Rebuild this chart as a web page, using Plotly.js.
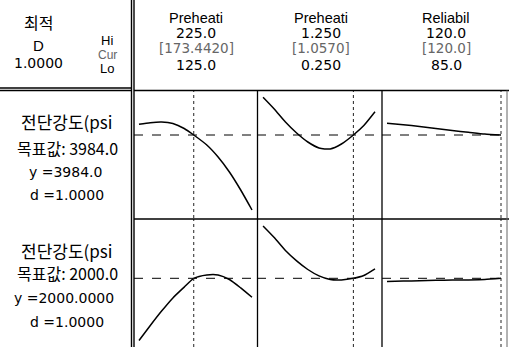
<!DOCTYPE html>
<html><head><meta charset="utf-8">
<script src="https://cdn.plot.ly/plotly-3.0.1.min.js"></script>
<style>html,body{margin:0;padding:0;background:#fff;}#chart{width:509px;height:347px;}</style>
</head><body><div id="chart"></div>
<script>
// ---- data ----
const factorNames = ["Preheati", "Preheati", "Reliabil"];
const hiLabels = ["225.0", "1.250", "120.0"];
const curLabels = ["[173.4420]", "[1.0570]", "[120.0]"];
const loLabels = ["125.0", "0.250", "85.0"];
const loVals = [125, 0.25, 85];
const hiVals = [225, 1.25, 120];
const curVals = [173.442, 1.057, 120];

const respNames = ["전단강도(psi", "전단강도(psi"];
const targetLabels = ["목표값: 3984.0", "목표값: 2000.0"];
const yLabels = ["y =3984.0", "y =2000.0000"];
const dLabels = ["d =1.0000", "d =1.0000"];
const targets = [3984.0, 2000.0];
const optimalD = "1.0000";

const x1 = [125, 135, 145, 155, 165, 173.442, 185, 195, 205, 215, 225];
const x2 = [0.25, 0.35, 0.45, 0.55, 0.65, 0.75, 0.85, 0.95, 1.057, 1.15, 1.25];
const x3 = [85, 90, 95, 100, 105, 110, 115, 120];

const r1p1 = [4070, 4083, 4088, 4076, 4036, 3984, 3904, 3808, 3688, 3544, 3384];
const r1p2 = [4286, 4192, 4088, 4000, 3928, 3880, 3872, 3912, 3984, 4060, 4170];
const r1p3 = [4078, 4066, 4052, 4036, 4020, 4006, 3992, 3984];
const r2p1 = [1689, 1764, 1836, 1902, 1956, 2000, 2017, 2017, 1994, 1952, 1905];
const r2p2 = [2262, 2204, 2139, 2087, 2044, 2012, 1994, 1992, 2000, 2014, 2047];
const r2p3 = [1984, 1986, 1988, 1990, 1991, 1992, 1994, 2000];

// ---- layout helpers ----
const W = 509, H = 347;
const px = v => v / W;
const py = v => 1 - v / H;
const xs = [x1, x2, x3];
const ys = [[r1p1, r1p2, r1p3], [r2p1, r2p2, r2p3]];
const panelX = [[134, 257], [257, 382], [382, 507]];
const rowY = [[91, 218], [219, 347]];
const xRanges = [[120.58, 229.42], [0.196, 1.3125], [83.46, 121.84]];
const yRanges = [[3320, 4336], [1656.5, 2296.5]];

const traces = [];
const layout = {
  width: W, height: H, margin: {l: 0, r: 0, t: 0, b: 0},
  paper_bgcolor: "#fff", plot_bgcolor: "rgba(0,0,0,0)",
  showlegend: false,
  font: {family: "Liberation Sans, Arial, sans-serif", size: 14, color: "#000"},
  shapes: [], annotations: []
};

for (let r = 0; r < 2; r++) {
  for (let p = 0; p < 3; p++) {
    const n = r * 3 + p + 1;
    const xa = "x" + (n === 1 ? "" : n), ya = "y" + (n === 1 ? "" : n);
    traces.push({
      x: xs[p], y: ys[r][p], xaxis: xa, yaxis: ya, type: "scatter", mode: "lines",
      line: {color: "#000", width: 1.5, shape: "spline", smoothing: 0.6}, hoverinfo: "skip"
    });
    layout["xaxis" + (n === 1 ? "" : n)] = {
      domain: [px(panelX[p][0]), px(panelX[p][1])], range: xRanges[p], anchor: ya,
      visible: false, fixedrange: true
    };
    layout["yaxis" + (n === 1 ? "" : n)] = {
      domain: [py(rowY[r][1]), py(rowY[r][0])], range: yRanges[r], anchor: xa,
      visible: false, fixedrange: true
    };
    layout.shapes.push({type: "line", xref: xa + " domain", yref: ya, x0: 0, x1: 1,
      y0: targets[r], y1: targets[r], line: {color: "#000", width: 1, dash: "dash"}});
    layout.shapes.push({type: "line", xref: xa, yref: ya + " domain", x0: curVals[p], x1: curVals[p],
      y0: 0, y1: 1, line: {color: "#222", width: 1, dash: "dot"}});
  }
}

// frame lines
const L = (x0, y0, x1, y1, w, c) => layout.shapes.push({type: "line", xref: "paper", yref: "paper",
  x0: px(x0), y0: py(y0), x1: px(x1), y1: py(y1), line: {color: c || "#000", width: w || 1}});
L(131.5, 0, 131.5, 347, 1.4);
L(134, 0, 134, 347, 1.4);
L(0, 88, 131.5, 88, 1.3);
L(0, 90.5, 131.5, 90.5, 1.3);
L(134, 90.5, 509, 90.5, 1.4);
L(134, 219, 509, 219, 1.5);
L(257.5, 90.5, 257.5, 347, 1.3);
L(382, 90.5, 382, 347, 1.3);
L(507, 90.5, 507, 347, 1, "#666");

const NUM = "DejaVu Sans, sans-serif";
const KR = "Noto Sans CJK KR, sans-serif";
const A = (text, x, y, font) => layout.annotations.push({
  text: text, xref: "paper", yref: "paper", x: px(x), y: py(y), xanchor: "center", yanchor: "middle",
  showarrow: false, font: Object.assign({family: NUM, size: 14, color: "#000"}, font || {})
});
// header left
A("최적", 38, 22, {family: KR, size: 16});
A("D", 38, 45, {family: "Liberation Sans, Arial, sans-serif", size: 15});
A("1.0000", 38, 63);
A("Hi", 107, 41, {family: "Liberation Sans, Arial, sans-serif", size: 13});
A("Cur", 107, 55, {family: "Liberation Sans, Arial, sans-serif", size: 12, color: "#666"});
A("Lo", 107, 69, {family: "Liberation Sans, Arial, sans-serif", size: 13});
// header panels
const hdrX = [196, 321, 446];
for (let p = 0; p < 3; p++) {
  A(factorNames[p], hdrX[p], 18, {family: "Liberation Sans, Arial, sans-serif", size: 14.5});
  A(hiLabels[p], hdrX[p], 33);
  A(curLabels[p], hdrX[p], 48, {color: "#666", size: 13.5});
  A(loLabels[p], hdrX[p], 65);
}
// row labels
const rowTxtY = [[122, 148, 172, 195], [250, 273, 298, 322]];
for (let r = 0; r < 2; r++) {
  A(respNames[r], 66, rowTxtY[r][0], {family: KR, size: 17});
  A(targetLabels[r], 67, rowTxtY[r][1], {family: KR, size: 16});
  A(yLabels[r], r === 0 ? 65 : 64, rowTxtY[r][2]);
  A(dLabels[r], 67, rowTxtY[r][3]);
}

Plotly.newPlot("chart", traces, layout, {staticPlot: true, displayModeBar: false});
</script></body></html>
